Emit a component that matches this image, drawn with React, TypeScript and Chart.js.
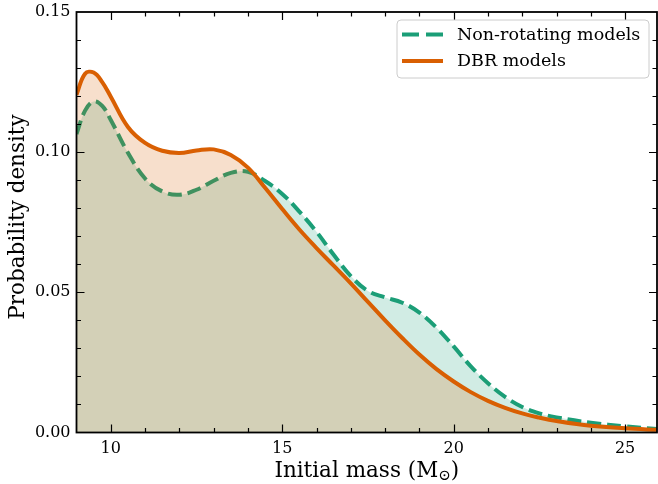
import React, { useEffect, useRef } from "react";
import { Chart, registerables } from "chart.js";

Chart.register(...registerables);

const masses = [9, 9.25, 9.5, 9.75, 10, 10.5, 11, 11.5, 12, 12.5, 13, 13.5, 14, 14.5, 15, 15.5, 16, 16.5, 17, 17.5, 18, 18.5, 19, 19.5, 20, 20.5, 21, 21.5, 22, 22.5, 23, 24, 25, 26];
const nonRotating = [0.1065, 0.1148, 0.1181, 0.1165, 0.1115, 0.0998, 0.0906, 0.0860, 0.0848, 0.0866, 0.0898, 0.0926, 0.0930, 0.0897, 0.0851, 0.0788, 0.0716, 0.0634, 0.0558, 0.0505, 0.0482, 0.0463, 0.0428, 0.0374, 0.0307, 0.0236, 0.0176, 0.0127, 0.0091, 0.0068, 0.0054, 0.0035, 0.0022, 0.0012];
const dbr = [0.1205, 0.1280, 0.1284, 0.1250, 0.1198, 0.1090, 0.1033, 0.1005, 0.0997, 0.1006, 0.1010, 0.0990, 0.0945, 0.0873, 0.0797, 0.0724, 0.0658, 0.0595, 0.0532, 0.0466, 0.0400, 0.0337, 0.0278, 0.0226, 0.0182, 0.0144, 0.0113, 0.0088, 0.0068, 0.0053, 0.0041, 0.0024, 0.0015, 0.0009];
const seriesNames = ["Non-rotating models", "DBR models"];
const xTickValues = [10, 15, 20, 25];
const yTickValues = [0, 0.05, 0.1, 0.15];

const GREEN = "#1b9e77";
const ORANGE = "#d95f02";
const FONT = "'DejaVu Serif', serif";

const decorPlugin = {
  id: "decor",
  afterDatasetsDraw(chart: any) {
    const ctx = chart.ctx;
    const { left, right, top, bottom } = chart.chartArea;
    const xs = chart.scales.x;
    const ys = chart.scales.y;
    ctx.save();
    ctx.strokeStyle = "#000";
    ctx.lineWidth = 1.2;
    for (let v = 9; v <= 25; v++) {
      const px = Math.round(xs.getPixelForValue(v)) + 0.5;
      if (px <= left + 1) continue;
      const len = v % 5 === 0 ? 8 : 4.5;
      ctx.beginPath();
      ctx.moveTo(px, bottom);
      ctx.lineTo(px, bottom - len);
      ctx.moveTo(px, top);
      ctx.lineTo(px, top + len);
      ctx.stroke();
    }
    for (let i = 1; i < 15; i++) {
      const v = i / 100;
      const py = Math.round(ys.getPixelForValue(v)) + 0.5;
      const len = i % 5 === 0 ? 8 : 4.5;
      ctx.beginPath();
      ctx.moveTo(left, py);
      ctx.lineTo(left + len, py);
      ctx.moveTo(right, py);
      ctx.lineTo(right - len, py);
      ctx.stroke();
    }
    ctx.lineWidth = 1.8;
    ctx.strokeRect(left, top, right - left, bottom - top);

    // legend
    const lx = 397, ly = 20, lw = 252, lh = 58;
    ctx.beginPath();
    ctx.roundRect(lx, ly, lw, lh, 4);
    ctx.fillStyle = "rgba(255,255,255,0.8)";
    ctx.fill();
    ctx.strokeStyle = "#cccccc";
    ctx.lineWidth = 1;
    ctx.stroke();
    ctx.lineWidth = 4;
    ctx.strokeStyle = GREEN;
    ctx.beginPath();
    ctx.moveTo(402, 34.5);
    ctx.lineTo(419, 34.5);
    ctx.moveTo(426, 34.5);
    ctx.lineTo(443, 34.5);
    ctx.stroke();
    ctx.strokeStyle = ORANGE;
    ctx.beginPath();
    ctx.moveTo(402, 61);
    ctx.lineTo(443, 61);
    ctx.stroke();
    ctx.fillStyle = "#000";
    ctx.font = "17.5px " + FONT;
    ctx.textBaseline = "middle";
    ctx.textAlign = "left";
    ctx.fillText(seriesNames[0], 457, 35);
    ctx.fillText(seriesNames[1], 457, 61);

    // x title with subscript
    const main = "Initial mass (M";
    const sub = "\u2299";
    const close = ")";
    ctx.textBaseline = "alphabetic";
    ctx.font = "21.5px " + FONT;
    const w1 = ctx.measureText(main).width;
    const w3 = ctx.measureText(close).width;
    ctx.font = "15px " + FONT;
    const w2 = ctx.measureText(sub).width;
    const total = w1 + w2 + w3;
    const cx = (left + right) / 2;
    const x0 = cx - total / 2;
    const base = 477;
    ctx.font = "21.5px " + FONT;
    ctx.fillText(main, x0, base);
    ctx.font = "15px " + FONT;
    ctx.fillText(sub, x0 + w1, base + 3);
    ctx.font = "21.5px " + FONT;
    ctx.fillText(close, x0 + w1 + w2, base);

    // y title
    ctx.save();
    ctx.translate(24, 217);
    ctx.rotate(-Math.PI / 2);
    ctx.textAlign = "center";
    ctx.textBaseline = "alphabetic";
    ctx.font = "21.5px " + FONT;
    ctx.fillText("Probability density", 0, 0);
    ctx.restore();

    ctx.restore();
  },
};

export default function App() {
  const ref = useRef<HTMLCanvasElement | null>(null);
  useEffect(() => {
    if (!ref.current) return;
    Chart.defaults.font.family = FONT;
    const chart = new Chart(ref.current, {
      type: "line",
      data: {
        datasets: [
          {
            label: seriesNames[0],
            data: masses.map((m, i) => ({ x: m, y: nonRotating[i] })),
            borderColor: GREEN,
            backgroundColor: "rgba(27,158,119,0.2)",
            borderWidth: 4,
            borderDash: [14, 6],
            fill: "origin",
            pointRadius: 0,
            tension: 0.4,
            order: 2,
          },
          {
            label: seriesNames[1],
            data: masses.map((m, i) => ({ x: m, y: dbr[i] })),
            borderColor: ORANGE,
            backgroundColor: "rgba(217,95,2,0.2)",
            borderWidth: 4,
            fill: "origin",
            pointRadius: 0,
            tension: 0.4,
            order: 1,
          },
        ],
      },
      options: {
        animation: false,
        responsive: false,
        maintainAspectRatio: false,
        layout: { padding: { top: 12, right: 1, left: 0, bottom: 0 } },
        plugins: {
          legend: { display: false },
          tooltip: { enabled: false },
        },
        scales: {
          x: {
            type: "linear",
            min: 9,
            max: 25.93,
            afterBuildTicks: (scale: any) => {
              scale.ticks = xTickValues.map((v) => ({ value: v }));
            },
            afterFit: (scale: any) => {
              scale.height = 51.5;
              scale.paddingLeft = 0;
              scale.paddingRight = 0;
            },
            grid: { display: false, drawTicks: false },
            border: { display: false },
            ticks: {
              color: "#000",
              font: { size: 16, family: FONT },
              padding: 7,
              maxRotation: 0,
              autoSkip: false,
              callback: (v: any) => String(v),
            },
          },
          y: {
            type: "linear",
            min: 0,
            max: 0.15,
            afterBuildTicks: (scale: any) => {
              scale.ticks = yTickValues.map((v) => ({ value: v }));
            },
            afterFit: (scale: any) => {
              scale.width = 76.5;
              scale.paddingTop = 0;
              scale.paddingBottom = 0;
            },
            grid: { display: false, drawTicks: false },
            border: { display: false },
            ticks: {
              color: "#000",
              font: { size: 16, family: FONT },
              padding: 6,
              autoSkip: false,
              callback: (v: any) => Number(v).toFixed(2),
            },
          },
        },
      },
      plugins: [decorPlugin],
    });
    return () => chart.destroy();
  }, []);
  return (
    <div style={{ position: "fixed", left: 0, top: 0, width: 658, height: 484, background: "#fff" }}>
      <canvas ref={ref} width={658} height={484} style={{ width: 658, height: 484, display: "block" }} />
    </div>
  );
}
